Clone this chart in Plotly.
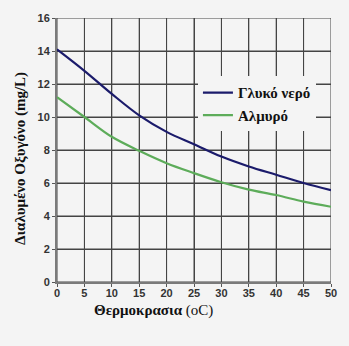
import plotly.graph_objects as go

temps = [0, 5, 10, 15, 20, 25, 30, 35, 40, 45, 50]
fresh = [14.1, 12.8, 11.4, 10.1, 9.1, 8.35, 7.6, 7.0, 6.5, 6.0, 5.57]
salt = [11.2, 10.0, 8.8, 7.95, 7.2, 6.6, 6.05, 5.6, 5.27, 4.87, 4.56]
name_fresh = "Γλυκό νερό"
name_salt = "Αλμυρό"
x_ticks = list(range(0, 51, 5))
y_ticks = list(range(0, 17, 2))

bg = "#f4f4f4"
gridc = "#444444"
serif = "Liberation Serif, DejaVu Serif, serif"
sans = "Liberation Sans, Arial, sans-serif"

fig = go.Figure()

# grid lines derived from the tick arrays (data-referenced so they sit above the plot background)
for t in x_ticks:
    fig.add_shape(type="line", xref="x", yref="y", x0=t, x1=t,
                  y0=y_ticks[0], y1=y_ticks[-1],
                  line=dict(color=gridc, width=1), layer="below")
for t in y_ticks:
    fig.add_shape(type="line", xref="x", yref="y", x0=x_ticks[0], x1=x_ticks[-1],
                  y0=t, y1=t, line=dict(color=gridc, width=1), layer="below")

fig.add_trace(go.Scatter(x=temps, y=fresh, name="<b>" + name_fresh + "</b>", mode="lines",
                         line=dict(color="#1b1b6b", width=2.2, shape="spline")))
fig.add_trace(go.Scatter(x=temps, y=salt, name="<b>" + name_salt + "</b>", mode="lines",
                         line=dict(color="#5dac5a", width=2.2, shape="spline")))

axis_common = dict(showgrid=True, gridcolor=gridc, gridwidth=1,
                   showline=True, linecolor="#7a7a7a", linewidth=2,
                   ticks="outside", ticklen=3, tickcolor="#555", zeroline=False,
                   tickfont=dict(family=sans, size=11, color="#333"))

fig.update_xaxes(range=[0, 50], tickmode="array", tickvals=x_ticks,
                 ticktext=["<b>%d</b>" % t for t in x_ticks],
                 ticklabelstandoff=-3, **axis_common)
fig.update_yaxes(range=[0, 16], tickmode="array", tickvals=y_ticks,
                 ticktext=["<b>%d</b>" % t for t in y_ticks], **axis_common)

pw, ph = 349 - 57 - 14, 346 - 15 - 64


def px_x(v):
    return (v - 57) / pw


def px_y(v):
    return (346 - 64 - v) / ph


fig.update_layout(
    width=349, height=346,
    margin=dict(l=57, r=14, t=15, b=64),
    paper_bgcolor=bg, plot_bgcolor=bg,
    showlegend=True,
    legend=dict(x=px_x(200), y=px_y(74), xanchor="left", yanchor="top",
                bgcolor=bg, borderwidth=0,
                font=dict(family=serif, size=15, color="#111"),
                itemwidth=30, tracegroupgap=0),
    annotations=[
        dict(text="<b>Θερμοκρασια</b> (oC)", x=px_x(155), y=px_y(311),
             xref="paper", yref="paper", xanchor="center", yanchor="middle",
             showarrow=False, font=dict(family=serif, size=15, color="#111")),
        dict(text="<b>Διαλυμένο Οξυγόνο (mg/L)</b>", x=px_x(20), y=px_y(157),
             xref="paper", yref="paper", xanchor="center", yanchor="middle",
             textangle=-90, showarrow=False, font=dict(family=serif, size=15, color="#111")),
    ],
)

fig.write_html("out.html")
